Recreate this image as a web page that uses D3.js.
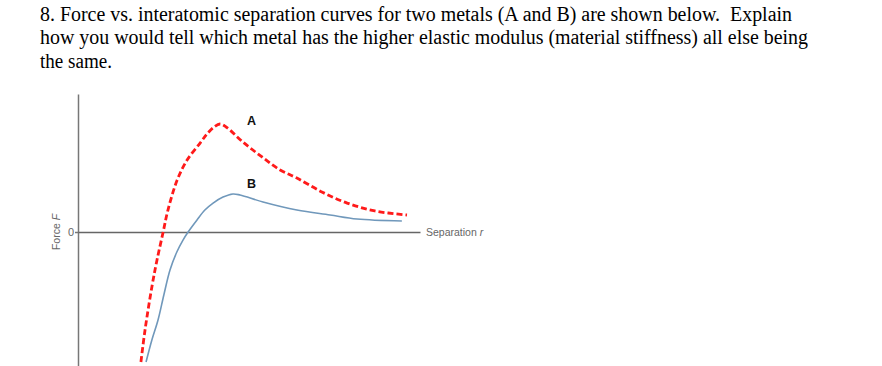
<!DOCTYPE html>
<html><head><meta charset="utf-8">
<script src="https://cdn.jsdelivr.net/npm/d3@7"></script>
<style>body{margin:0;background:#fff}svg{display:block}</style>
</head><body>
<svg id="c" width="882" height="366"></svg>
<script>
const titleLines = [
  "8. Force vs. interatomic separation curves for two metals (A and B) are shown below.  Explain",
  "how you would tell which metal has the higher elastic modulus (material stiffness) all else being",
  "the same."
];
const titleWidths = [752, 768, 72];
// separation r (arbitrary units) and force F (arbitrary units)
const rA = [1.84,1.96,2.16,2.31,2.49,2.63,2.9,3.19,3.57,3.77,3.98,4.15,4.33,4.82,5.38,5.91,6.4,7.13,7.87,8.68,9.62];
const fA = [-9.7,-7.31,-4.1,-2.09,0,1.64,3.88,5.37,6.64,7.31,7.84,8.06,7.84,6.72,5.6,4.63,4.03,2.99,2.16,1.57,1.27];
const rB = [1.99,2.16,2.34,2.51,2.69,2.89,3.07,3.22,3.48,3.71,3.95,4.24,4.53,4.74,5.41,6.4,7.37,8.16,9.47];
const fB = [-9.7,-8.06,-6.57,-4.7,-2.84,-1.49,-0.6,0,0.9,1.64,2.16,2.61,2.84,2.76,2.24,1.64,1.27,0.97,0.82];
const curveLabels = ["A","B"];
const yTicks = [0];

const svg = d3.select("#c");
const x = d3.scaleLinear().domain([0,10]).range([78,420]);
const y = d3.scaleLinear().domain([-10,10.3]).range([366,94]);

// title
const tg = svg.append("g").attr("font-family","'Times New Roman','Liberation Serif',serif").attr("fill","#000");
tg.selectAll("text").data(titleLines).join("text")
  .attr("x",40).attr("y",(d,i)=>21+i*23.3).style("white-space","pre")
  .attr("font-size",20).attr("textLength",(d,i)=>titleWidths[i]).attr("lengthAdjust","spacingAndGlyphs")
  .text(d=>d);

// axes
const gy = svg.append("g").attr("transform","translate(78,0)")
  .call(d3.axisLeft(y).tickValues(yTicks).tickSize(3).tickSizeOuter(0).tickFormat(d3.format("d")));
gy.select(".domain").attr("stroke","#777").attr("stroke-width",1.5);
gy.selectAll(".tick line").attr("stroke","#777").attr("stroke-width",1.5);
gy.selectAll(".tick text").attr("font-family","'Liberation Sans',Arial,sans-serif").attr("font-size",11).attr("fill","#666").attr("x",-4);

const gx = svg.append("g").attr("transform",`translate(0,${y(0)})`)
  .call(d3.axisBottom(x).tickValues([]).tickSizeOuter(0));
gx.select(".domain").attr("stroke","#666").attr("stroke-width",1.5);

svg.append("text").attr("x",426).attr("y",y(0)+4)
  .attr("font-family","'Liberation Sans',Arial,sans-serif").attr("font-size",10.5).attr("fill","#666")
  .html('Separation <tspan font-style="italic">r</tspan>');
svg.append("text").attr("transform",`translate(60,${y(0)}) rotate(-90)`).attr("text-anchor","middle")
  .attr("font-family","'Liberation Sans',Arial,sans-serif").attr("font-size",10.5).attr("fill","#666")
  .html('Force <tspan font-style="italic">F</tspan>');

// curves
const line = d3.line().x(d=>x(d[0])).y(d=>y(d[1])).curve(d3.curveCatmullRom.alpha(0.5));
svg.append("path").datum(rB.map((r,i)=>[r,fB[i]])).attr("d",line)
  .attr("fill","none").attr("stroke","#7098bb").attr("stroke-width",1.6);
svg.append("path").datum(rA.map((r,i)=>[r,fA[i]])).attr("d",line)
  .attr("fill","none").attr("stroke","#ff1a1a").attr("stroke-width",2.8).attr("stroke-dasharray","6,3");

const labPos = [[5.07,7.95],[5.07,3.3]];
svg.selectAll(".lab").data(curveLabels).join("text").attr("class","lab")
  .attr("x",(d,i)=>x(labPos[i][0])).attr("y",(d,i)=>y(labPos[i][1])).attr("text-anchor","middle")
  .attr("font-family","'Liberation Sans',Arial,sans-serif").attr("font-weight","bold").attr("font-size",12.5).attr("fill","#111")
  .text(d=>d);
</script>
</body></html>
